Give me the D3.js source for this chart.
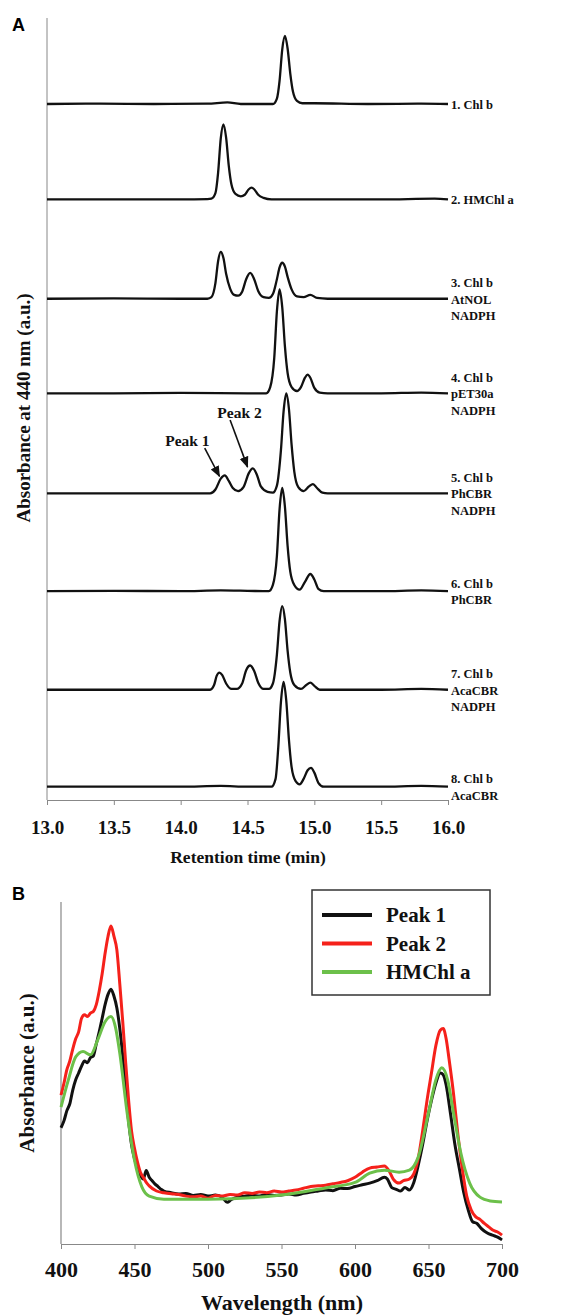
<!DOCTYPE html>
<html>
<head>
<meta charset="utf-8">
<script src="https://cdn.jsdelivr.net/npm/d3@7"></script>
<style>
  body { margin: 0; background: #fff; }
  svg { display: block; }
</style>
</head>
<body>
<svg id="chart"></svg>
<script>
const width = 565;
const height = 1315;
const serif = '"Liberation Serif", "Times New Roman", serif';

// ---- panel A : HPLC traces (retention time, absorbance above own baseline)
const trace1 = [[13.0,0],[13.4,0.005],[13.8,0],[14.2,0.005],[14.35,0.02],[14.45,0],[14.69,0],[14.72,0.07],[14.74,0.3],[14.76,0.7],[14.78,0.87],[14.80,0.71],[14.82,0.39],[14.84,0.16],[14.87,0.04],[14.91,0.01],[15.0,0.01],[15.4,0],[15.8,0.005],[16.0,0]];
const trace2 = [[13.0,0],[13.5,0],[14.0,0],[14.2,0.005],[14.23,0.01],[14.26,0.08],[14.28,0.34],[14.30,0.78],[14.32,0.96],[14.34,0.79],[14.36,0.43],[14.38,0.19],[14.41,0.07],[14.45,0.04],[14.48,0.06],[14.51,0.13],[14.53,0.15],[14.55,0.13],[14.58,0.06],[14.62,0.02],[14.68,0],[15.0,0],[15.5,0],[15.9,0.01],[16.0,0]];
const trace3 = [[13.0,0],[13.5,0.005],[14.0,0],[14.2,0],[14.23,0.02],[14.26,0.2],[14.28,0.48],[14.30,0.60],[14.32,0.52],[14.34,0.32],[14.37,0.13],[14.40,0.05],[14.43,0.04],[14.46,0.09],[14.49,0.25],[14.52,0.33],[14.55,0.25],[14.58,0.1],[14.62,0.02],[14.66,0.01],[14.69,0.06],[14.72,0.25],[14.74,0.4],[14.76,0.46],[14.78,0.41],[14.80,0.28],[14.83,0.12],[14.87,0.03],[14.92,0.02],[14.97,0.05],[15.02,0.01],[15.1,0],[15.5,0],[16.0,0]];
const trace4 = [[13.0,0],[13.5,0],[14.0,0.005],[14.5,0],[14.64,0],[14.67,0.08],[14.70,0.45],[14.72,1.05],[14.74,1.33],[14.76,1.1],[14.78,0.6],[14.80,0.26],[14.83,0.08],[14.87,0.03],[14.90,0.08],[14.93,0.2],[14.95,0.24],[14.97,0.2],[15.0,0.07],[15.04,0.01],[15.1,0],[15.5,0],[15.8,0.01],[16.0,0]];
const trace5 = [[13.0,0],[13.5,0],[14.0,0],[14.22,0],[14.26,0.05],[14.30,0.19],[14.33,0.23],[14.36,0.16],[14.39,0.07],[14.43,0.03],[14.47,0.08],[14.51,0.26],[14.54,0.32],[14.57,0.24],[14.60,0.09],[14.65,0.02],[14.69,0.01],[14.72,0.1],[14.75,0.55],[14.77,1.05],[14.79,1.28],[14.81,1.08],[14.83,0.62],[14.85,0.28],[14.88,0.08],[14.92,0.03],[14.96,0.09],[14.99,0.12],[15.02,0.07],[15.06,0.01],[15.1,0],[15.5,0],[16.0,0]];
const trace6 = [[13.0,0],[13.5,0.005],[14.0,0],[14.3,0.01],[14.5,0.005],[14.66,0],[14.69,0.08],[14.72,0.45],[14.74,1.05],[14.76,1.32],[14.78,1.08],[14.80,0.58],[14.82,0.25],[14.85,0.08],[14.89,0.02],[14.93,0.12],[14.97,0.22],[15.0,0.15],[15.03,0.03],[15.07,0],[15.5,0],[15.8,0.01],[16.0,0]];
const trace7 = [[13.0,0],[13.5,0],[14.0,0],[14.22,0],[14.25,0.06],[14.27,0.18],[14.29,0.22],[14.31,0.19],[14.34,0.08],[14.38,0.01],[14.42,0.01],[14.46,0.08],[14.49,0.25],[14.52,0.31],[14.55,0.24],[14.58,0.09],[14.62,0.01],[14.66,0.01],[14.69,0.08],[14.72,0.45],[14.74,0.88],[14.76,1.07],[14.78,0.9],[14.80,0.5],[14.82,0.22],[14.85,0.06],[14.90,0.01],[14.94,0.06],[14.97,0.09],[15.0,0.05],[15.04,0],[15.5,0],[15.8,0.01],[16.0,0]];
const trace8 = [[13.0,0],[13.5,0],[14.0,0],[14.3,0.01],[14.5,0],[14.68,0],[14.71,0.1],[14.73,0.5],[14.75,1.08],[14.77,1.34],[14.79,1.1],[14.81,0.6],[14.83,0.25],[14.86,0.07],[14.89,0.03],[14.92,0.1],[14.95,0.21],[14.975,0.24],[15.0,0.18],[15.03,0.05],[15.07,0],[15.5,0],[15.8,0.01],[16.0,0]];
const traceOffsets = [8.9, 7.68, 6.41, 5.2, 3.92, 2.67, 1.41, 0.17];
const traceLabels = [
  ['1. Chl b'], ['2. HMChl a'], ['3. Chl b', 'AtNOL', 'NADPH'], ['4. Chl b', 'pET30a', 'NADPH'],
  ['5. Chl b', 'PhCBR', 'NADPH'], ['6. Chl b', 'PhCBR'], ['7. Chl b', 'AcaCBR', 'NADPH'], ['8. Chl b', 'AcaCBR']
];
const timeTicks = [13.0, 13.5, 14.0, 14.5, 15.0, 15.5, 16.0];
// peak arrows on trace 5: [text, text t, text v, tail t, tail v, tip t, tip v]
const peakNotes = [
  ['Peak 1', 14.05, 0.68, 14.18, 0.58, 14.29, 0.22],
  ['Peak 2', 14.44, 1.04, 14.37, 0.94, 14.50, 0.34]
];

// ---- panel B : absorption spectra
const wlTicks = [400, 450, 500, 550, 600, 650, 700];
const spectrumNames = ['Peak 1', 'Peak 2', 'HMChl a'];
const spectrumColors = ['#111111', '#f5211b', '#6cc04a'];
const peak1Spec = [[400,0.34],[402,0.36],[404,0.39],[406,0.41],[408,0.45],[410,0.48],[412,0.5],[414,0.52],[416,0.535],[418,0.53],[420,0.545],[422,0.55],[424,0.585],[426,0.62],[428,0.66],[430,0.7],[432,0.73],[434,0.745],[436,0.725],[438,0.69],[440,0.63],[442,0.55],[444,0.45],[446,0.36],[448,0.29],[450,0.25],[452,0.22],[454,0.2],[456,0.19],[458,0.215],[460,0.195],[462,0.185],[464,0.175],[466,0.168],[468,0.16],[470,0.155],[475,0.15],[480,0.146],[485,0.148],[490,0.142],[495,0.145],[500,0.14],[505,0.143],[510,0.135],[513,0.122],[516,0.13],[520,0.137],[525,0.14],[530,0.143],[535,0.14],[540,0.145],[545,0.142],[550,0.143],[555,0.146],[560,0.143],[565,0.148],[570,0.152],[575,0.155],[580,0.158],[585,0.156],[590,0.163],[595,0.162],[600,0.168],[605,0.173],[610,0.178],[615,0.185],[620,0.195],[622,0.19],[625,0.165],[628,0.16],[631,0.155],[634,0.165],[637,0.158],[640,0.18],[643,0.23],[646,0.29],[649,0.36],[652,0.42],[655,0.47],[658,0.5],[660,0.495],[662,0.465],[665,0.38],[668,0.29],[671,0.22],[674,0.15],[677,0.1],[680,0.065],[683,0.06],[686,0.045],[690,0.032],[694,0.025],[697,0.02],[700,0.012]];
const peak2Spec = [[400,0.435],[402,0.47],[404,0.51],[406,0.535],[408,0.57],[410,0.6],[412,0.62],[414,0.66],[416,0.67],[418,0.665],[420,0.675],[422,0.68],[424,0.7],[426,0.74],[428,0.79],[430,0.85],[432,0.9],[434,0.93],[436,0.9],[438,0.86],[440,0.76],[442,0.65],[444,0.53],[446,0.42],[448,0.33],[450,0.28],[452,0.24],[454,0.21],[456,0.195],[458,0.18],[460,0.17],[465,0.155],[470,0.15],[475,0.147],[480,0.145],[485,0.14],[490,0.138],[495,0.14],[500,0.134],[505,0.142],[510,0.14],[515,0.145],[520,0.143],[525,0.15],[530,0.148],[535,0.152],[540,0.15],[545,0.155],[550,0.152],[555,0.155],[560,0.158],[565,0.163],[570,0.168],[575,0.17],[580,0.172],[585,0.176],[590,0.18],[595,0.185],[600,0.195],[605,0.21],[610,0.222],[615,0.225],[620,0.228],[623,0.215],[626,0.19],[630,0.178],[633,0.185],[637,0.19],[640,0.205],[643,0.25],[646,0.33],[649,0.42],[652,0.5],[655,0.58],[658,0.625],[660,0.63],[662,0.6],[664,0.54],[667,0.44],[670,0.32],[673,0.22],[676,0.14],[679,0.1],[682,0.08],[685,0.072],[688,0.06],[691,0.05],[694,0.04],[697,0.035],[700,0.026]];
const hmchlSpec = [[400,0.4],[405,0.48],[410,0.547],[415,0.563],[420,0.553],[425,0.597],[430,0.65],[434,0.665],[437,0.635],[440,0.558],[445,0.383],[450,0.245],[455,0.167],[460,0.14],[470,0.131],[500,0.131],[550,0.143],[580,0.164],[600,0.18],[610,0.207],[620,0.216],[630,0.21],[637,0.216],[643,0.254],[650,0.383],[655,0.48],[659,0.515],[663,0.48],[667,0.383],[672,0.266],[678,0.178],[685,0.137],[692,0.126],[700,0.123]];

const svg = d3.select('#chart')
    .attr('width', width)
    .attr('height', height);

function serifText(sel, size) {
  return sel.style('font-family', serif)
      .style('font-weight', 'bold')
      .style('font-size', size + 'px')
      .attr('fill', '#111');
}

svg.append('defs').append('marker')
    .attr('id', 'arrow')
    .attr('viewBox', '0 0 10 10')
    .attr('refX', 9).attr('refY', 5)
    .attr('markerWidth', 7).attr('markerHeight', 7)
    .attr('orient', 'auto')
  .append('path')
    .attr('d', 'M0,1 L10,5 L0,9 z')
    .attr('fill', '#111');

// ================= panel A
const xA = d3.scaleLinear().domain([13, 16]).range([47, 448]);
const yA = d3.scaleLinear().domain([0, 10]).range([800, 18]);
const traces = [trace1, trace2, trace3, trace4, trace5, trace6, trace7, trace8];

const gA = svg.append('g').classed('panel-a', true);

gA.append('line')
    .attr('x1', xA(13)).attr('x2', xA(13))
    .attr('y1', yA(10)).attr('y2', yA(0))
    .attr('stroke', '#888').attr('stroke-width', 1);

const axisA = gA.append('g')
    .attr('transform', `translate(0,${yA(0)})`)
    .call(d3.axisBottom(xA).tickValues(timeTicks).tickFormat(d3.format('.1f'))
      .tickSize(5).tickSizeOuter(0).tickPadding(16));
axisA.select('.domain').attr('stroke', '#888');
axisA.selectAll('.tick line').attr('stroke', '#888');
serifText(axisA.selectAll('.tick text'), 19);

traces.forEach((tr, i) => {
  const off = traceOffsets[i];
  const line = d3.line()
      .x(d => xA(d[0]))
      .y(d => yA(off + d[1]))
      .curve(d3.curveMonotoneX);
  gA.append('path')
      .datum(tr)
      .attr('d', line)
      .attr('fill', 'none')
      .attr('stroke', '#111')
      .attr('stroke-width', 2.3)
      .attr('stroke-linejoin', 'round');

  const lines = traceLabels[i];
  const t = serifText(gA.append('text'), 12.5);
  lines.forEach((s, j) => {
    t.append('tspan')
        .attr('x', 451)
        .attr('y', yA(off) + 1 + (j - (lines.length - 1) / 2) * 16.5)
        .attr('dominant-baseline', 'central')
        .text(s);
  });
});

peakNotes.forEach(n => {
  const off = traceOffsets[4];
  serifText(gA.append('text'), 15.5)
      .attr('text-anchor', 'middle')
      .attr('dominant-baseline', 'central')
      .attr('x', xA(n[1])).attr('y', yA(off + n[2]))
      .text(n[0]);
  gA.append('line')
      .attr('x1', xA(n[3])).attr('y1', yA(off + n[4]))
      .attr('x2', xA(n[5])).attr('y2', yA(off + n[6]))
      .attr('stroke', '#111').attr('stroke-width', 1.6)
      .attr('marker-end', 'url(#arrow)');
});

serifText(gA.append('text'), 19)
    .attr('text-anchor', 'middle')
    .attr('dominant-baseline', 'central')
    .attr('transform', 'translate(23,408) rotate(-90)')
    .text('Absorbance at 440 nm (a.u.)');

serifText(gA.append('text'), 17.5)
    .attr('text-anchor', 'middle')
    .attr('x', 248).attr('y', 863)
    .text('Retention time (min)');

gA.append('text')
    .attr('x', 12).attr('y', 31)
    .style('font-family', 'Liberation Sans, Arial, sans-serif')
    .style('font-weight', 'bold')
    .style('font-size', '18px')
    .text('A');

// ================= panel B
const xB = d3.scaleLinear().domain([400, 700]).range([61, 502]);
const yB = d3.scaleLinear().domain([0, 1]).range([1244, 902]);
const spectra = [peak1Spec, peak2Spec, hmchlSpec];

const gB = svg.append('g').classed('panel-b', true);

gB.append('line')
    .attr('x1', xB(400)).attr('x2', xB(400))
    .attr('y1', yB(1)).attr('y2', yB(0))
    .attr('stroke', '#888').attr('stroke-width', 1.2);

const axisB = gB.append('g')
    .attr('transform', `translate(0,${yB(0)})`)
    .call(d3.axisBottom(xB).tickValues(wlTicks).tickFormat(d3.format('d'))
      .tickSize(5).tickSizeOuter(0).tickPadding(12));
axisB.select('.domain').attr('stroke', '#888').attr('stroke-width', 1.2);
axisB.selectAll('.tick line').attr('stroke', '#888');
serifText(axisB.selectAll('.tick text'), 22);

spectra.forEach((sp, i) => {
  const line = d3.line()
      .x(d => xB(d[0]))
      .y(d => yB(d[1]))
      .curve(d3.curveMonotoneX);
  gB.append('path')
      .datum(sp)
      .attr('d', line)
      .attr('fill', 'none')
      .attr('stroke', spectrumColors[i])
      .attr('stroke-width', 3)
      .attr('stroke-linejoin', 'round');
});

const legend = gB.append('g').attr('transform', 'translate(312,890)');
legend.append('rect')
    .attr('width', 178).attr('height', 105)
    .attr('fill', '#fff')
    .attr('stroke', '#333').attr('stroke-width', 1.5);
spectrumNames.forEach((name, i) => {
  const yy = 25 + i * 28.5;
  legend.append('line')
      .attr('x1', 10).attr('x2', 60)
      .attr('y1', yy).attr('y2', yy)
      .attr('stroke', spectrumColors[i]).attr('stroke-width', 4);
  serifText(legend.append('text'), 21)
      .attr('x', 74).attr('y', yy)
      .attr('dominant-baseline', 'central')
      .text(name);
});

serifText(gB.append('text'), 21)
    .attr('text-anchor', 'middle')
    .attr('dominant-baseline', 'central')
    .attr('transform', 'translate(27,1073) rotate(-90)')
    .text('Absorbance (a.u.)');

serifText(gB.append('text'), 22)
    .attr('text-anchor', 'middle')
    .attr('x', 282).attr('y', 1310)
    .text('Wavelength (nm)');

gB.append('text')
    .attr('x', 12).attr('y', 900)
    .style('font-family', 'Liberation Sans, Arial, sans-serif')
    .style('font-weight', 'bold')
    .style('font-size', '18px')
    .text('B');
</script>
</body>
</html>
